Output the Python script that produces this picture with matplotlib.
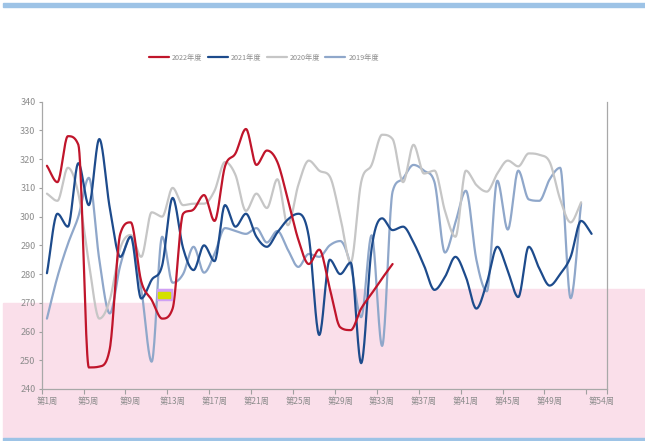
import numpy as np
import matplotlib
matplotlib.use("Agg")
import matplotlib.pyplot as plt
from matplotlib.patches import Rectangle

plt.rcParams['font.family'] = ['Noto Sans CJK SC', 'DejaVu Sans']

# 周度数据
y2022 = [317.7, 312, 328, 325, 247.5, 247.8, 254, 294, 298, 277.5, 271, 264.5, 268,
         301, 302.5, 307.5, 298.5, 317.5, 322, 330.5, 318, 323, 319, 306, 292, 283.5,
         288.5, 275, 261.5, 260.5, 268, 273.2, 278.5, 283.5]
y2021 = [280.3, 301, 296.5, 318.6, 304, 327, 303, 286, 293, 271.5, 278, 283, 306.5,
         289, 281.4, 290, 284.5, 304, 296.5, 301, 293, 289.5, 294.5, 299, 301, 293,
         258.8, 285, 280, 284, 249, 289, 299.4, 295.3, 296.5, 291, 283, 274.5, 279,
         286, 279, 268, 277, 289.5, 281, 272, 289.5, 282, 276, 280, 286, 298.5, 294]
y2020 = [308, 305.5, 317, 308, 284, 264.5, 271, 289, 293.6, 286, 301.5, 300, 310,
         304, 304.5, 304.5, 309, 319, 314.5, 302, 308, 303, 313, 297, 311, 319.5,
         316, 314, 300, 284, 312, 318, 328.5, 327, 312, 325, 315, 316, 302, 293,
         316, 311, 308.7, 315, 319.5, 317.5, 322, 321.5, 319, 306, 298, 305]
y2019 = [264.5, 279, 290.5, 300, 313.5, 285, 266.3, 283, 293, 275, 249.5, 293, 277,
         280, 289.5, 280.5, 287, 296, 295, 294, 296, 291, 295, 288.5, 282.5, 287,
         286, 290, 291.5, 283, 265, 293.5, 255, 308.7, 313.3, 318, 316, 312, 287.5,
         298, 309, 285, 274, 312.5, 295.5, 316, 306, 305.5, 313, 317, 271.6, 304.6]

series = [('2022年度', y2022, '#C0152B'),
          ('2021年度', y2021, '#1D4B8C'),
          ('2020年度', y2020, '#C6C6C6'),
          ('2019年度', y2019, '#8FA7CA')]

xlabels = ['第%d周' % w for w in range(1, 50, 4)] + ['第54周']
xlabel_pos = list(range(1, 50, 4)) + [54]


def smooth(y, n=20):
    # 平滑曲线：Catmull-Rom 切线 + 防过冲限制
    y = np.asarray(y, float)
    x = np.arange(1, len(y) + 1, dtype=float)
    d = np.diff(y)
    m = np.zeros_like(y)
    m[1:-1] = (y[2:] - y[:-2]) / 2
    m[0], m[-1] = d[0], d[-1]
    for i in range(1, len(y) - 1):
        if d[i - 1] * d[i] <= 0:
            m[i] = 0
        else:
            lim = 3 * min(abs(d[i - 1]), abs(d[i]))
            m[i] = np.sign(m[i]) * min(abs(m[i]), lim)
    t = np.linspace(0, 1, n, endpoint=False)[:, None]
    h00 = 2 * t ** 3 - 3 * t ** 2 + 1
    h10 = t ** 3 - 2 * t ** 2 + t
    h01 = -2 * t ** 3 + 3 * t ** 2
    h11 = t ** 3 - t ** 2
    ys = h00 * y[:-1] + h10 * m[:-1] + h01 * y[1:] + h11 * m[1:]
    xs = x[:-1] + t
    return (np.append(xs.T.ravel(), x[-1]), np.append(ys.T.ravel(), y[-1]))


fig = plt.figure(figsize=(6.45, 4.41), dpi=100)
W, H = 645.0, 441.0


def px_rect(x0, y0, x1, y1, **kw):
    fig.patches.append(Rectangle((x0 / W, 1 - y1 / H), (x1 - x0) / W, (y1 - y0) / H,
                                 transform=fig.transFigure, **kw))


# 背景色块（截图里的装饰）
px_rect(3, 303, 157, 438, color='#FADFEA', zorder=-5)
px_rect(157, 289, 645, 438, color='#FADFEA', zorder=-5)
px_rect(3, 3, 645, 7, color='#9DC3E6', zorder=-4)
px_rect(3, 438, 645, 441, color='#9DC3E6', zorder=-4)
px_rect(157, 289, 172, 300, color='#CFA0F5', zorder=5)
px_rect(158, 292, 170, 298, color='#D4E000', zorder=6)

ax = fig.add_axes([41.7 / W, 1 - 389 / H, (607.3 - 41.7) / W, (389 - 101.7) / H])
ax.patch.set_alpha(0)

for name, ys, c in reversed(series):
    sx, sy = smooth(ys)
    ax.plot(sx, sy, color=c, lw=1.6, label=name, solid_capstyle='round')

ax.set_xlim(0.5, 54.5)
ax.set_ylim(240, 340)
ax.set_yticks(range(240, 341, 10))

ax.set_xticks(list(np.arange(0.5, 53, 4)) + [54.5])
ax.set_xticklabels([])
ax.set_xticks(xlabel_pos, minor=True)
ax.set_xticklabels(xlabels, minor=True)
ax.tick_params(axis='x', which='major', length=3.5, width=0.8, color='#A0A0A0')
ax.tick_params(axis='x', which='minor', length=0, pad=6, labelsize=6, labelcolor='#8C8C8C')
ax.tick_params(axis='y', length=2.5, width=0.8, color='#A0A0A0', pad=2,
               labelsize=6.5, labelcolor='#8C8C8C')

ax.spines['top'].set_visible(False)
for s in ['left', 'bottom', 'right']:
    ax.spines[s].set_color('#A8A8A8')
    ax.spines[s].set_linewidth(0.9)

h, l = ax.get_legend_handles_labels()
leg = fig.legend(h[::-1], l[::-1], loc='center', bbox_to_anchor=(264 / W, 1 - 58 / H),
                 ncol=4, frameon=False, fontsize=5.2, handlelength=2.8,
                 handletextpad=0.4, columnspacing=0.7)
for t in leg.get_texts():
    t.set_color('#8C8C8C')

fig.savefig('out.png', dpi=100)
